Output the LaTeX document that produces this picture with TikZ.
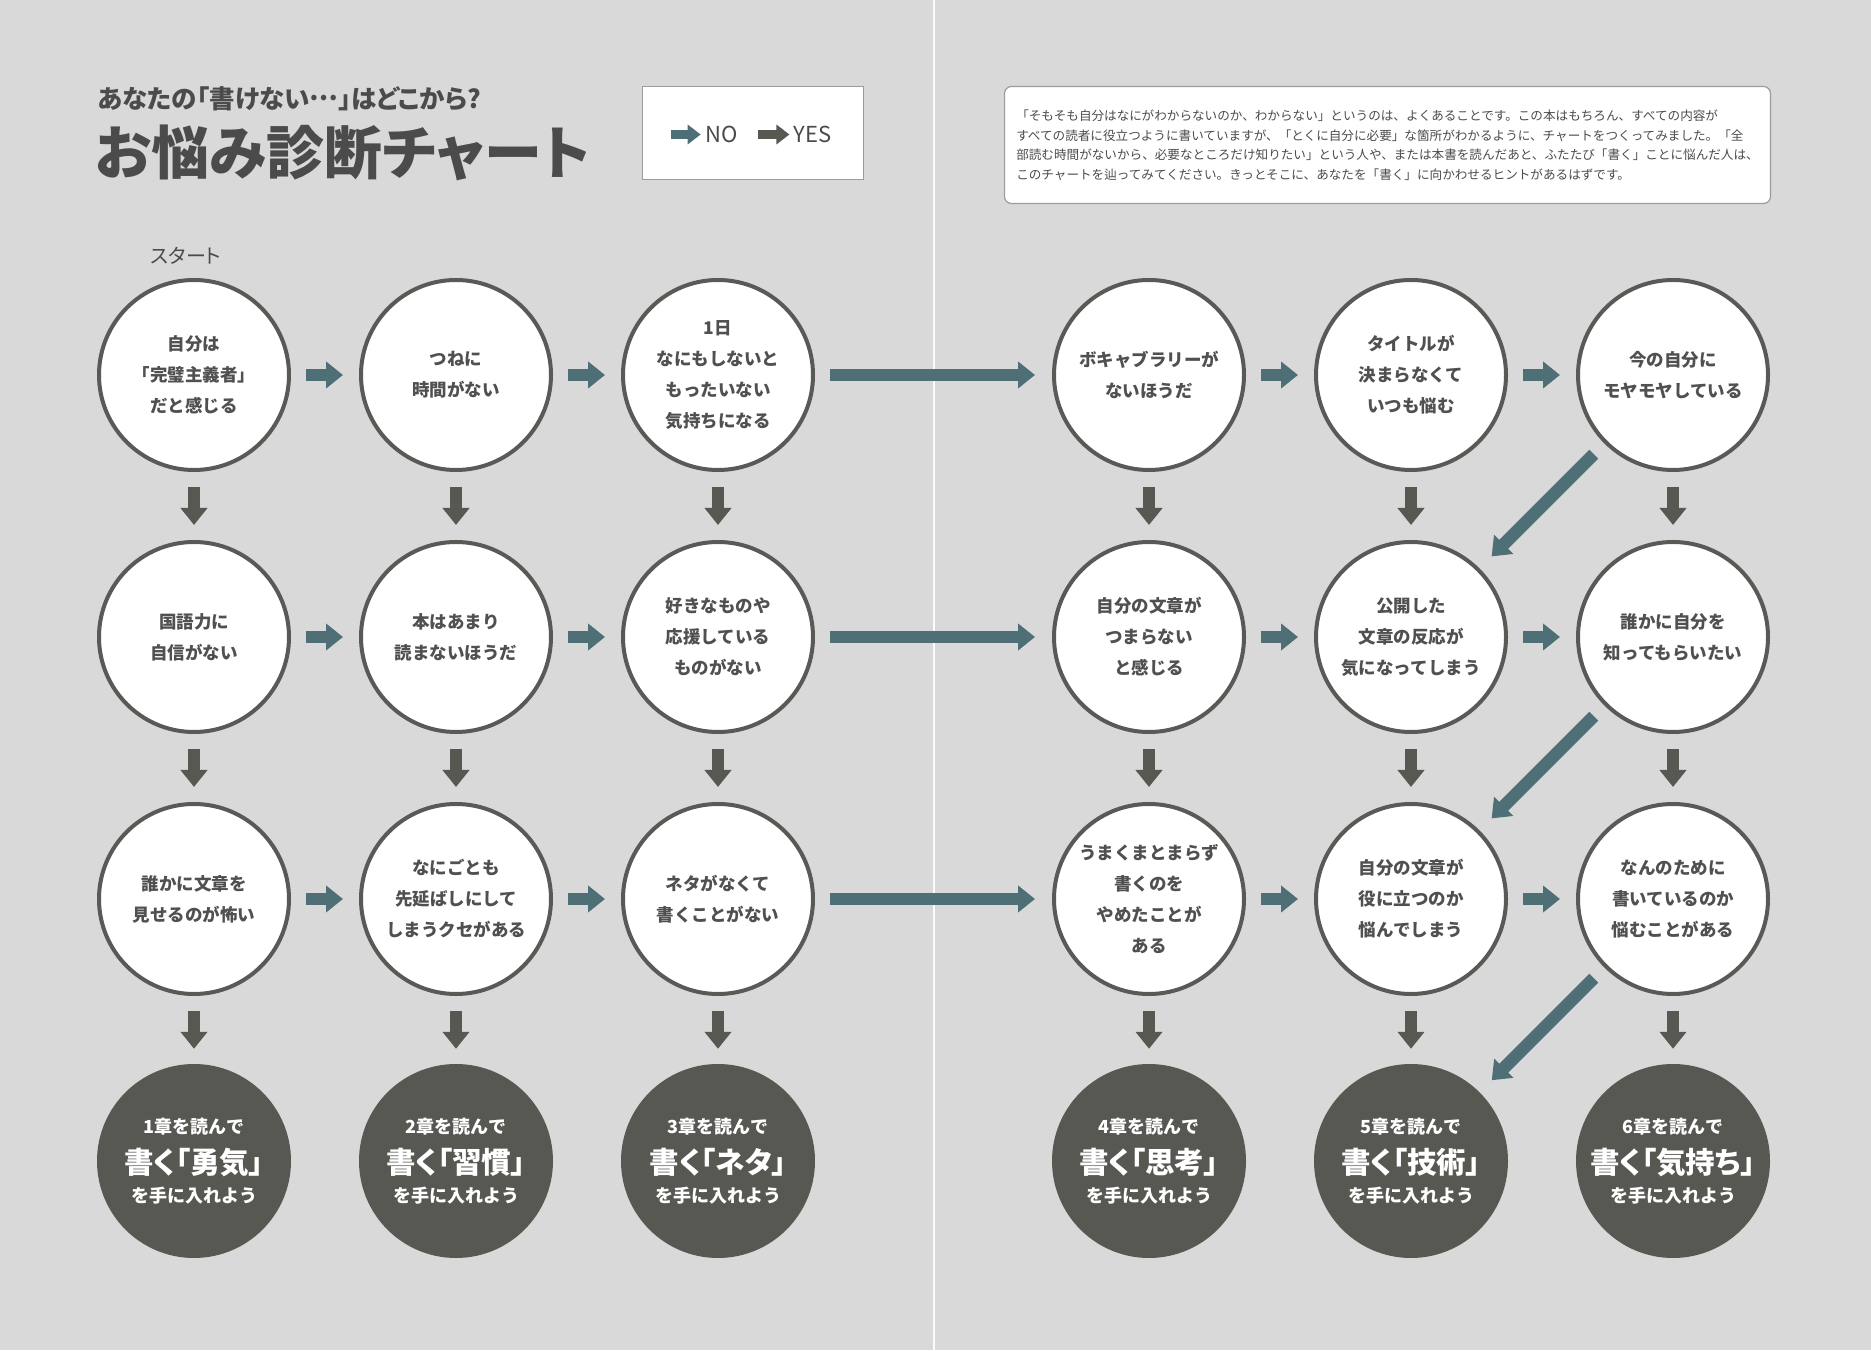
\documentclass[tikz,border=0pt]{standalone}
\usepackage{fontspec}
\setmainfont{Noto Sans CJK JP}
\newfontfamily\paltfont{Noto Sans CJK JP}[RawFeature=+palt]
\usepackage{xcolor}
\definecolor{bg}{HTML}{D9D9D9}
\definecolor{acc}{HTML}{4F6F77}
\definecolor{dk}{HTML}{585853}
\definecolor{ring}{HTML}{595956}
\definecolor{ink}{HTML}{4B4B4B}
\definecolor{qink}{HTML}{505050}
\definecolor{frame}{HTML}{9C9C9C}
\usepackage{tikz}
\usetikzlibrary{arrows.meta}
\tikzset{
  qc/.style={circle,draw=ring,line width=4pt,fill=white,minimum size=190pt,inner sep=0pt,align=center,text=qink,font=\bfseries\fontsize{17.5}{31}\selectfont},
  gc/.style={circle,fill=dk,minimum size=194pt,inner sep=0pt,align=center,text=white,font=\bfseries\fontsize{18}{35}\selectfont},
  arrn/.style={draw=acc,line width=12.5pt,-{Triangle[length=17pt,width=26pt]}},
  arry/.style={arrn,draw=dk},
  legn/.style={draw=acc,line width=9pt,-{Triangle[length=13pt,width=19pt]}},
  legy/.style={legn,draw=dk},
  lab/.style={inner sep=0pt,text=ink},
  card/.style={draw=frame,fill=white,line width=1.2pt,inner sep=0pt},
}
\newcommand\goaltxt[2]{#1章を読んで\\[5pt]{\paltfont\fontsize{29.5}{35}\selectfont 書く「#2」}\\[-6pt]を手に入れよう}

\begin{document}
\begin{tikzpicture}[x=1pt,y=1pt]
\fill[bg] (0,0) rectangle (1871,1350);
\useasboundingbox (0,0) rectangle (1871,1350);
\draw[white!92!bg,line width=2pt] (934,0) -- (934,1350);

% heading and legend
\node[lab,anchor=west,font=\paltfont\bfseries\fontsize{25.5}{30}\selectfont] (sub) at (97,1251) {あなたの「書けない\raisebox{0.33em}{…}」はどこから?};
\node[lab,anchor=west,font=\paltfont\bfseries\fontsize{58}{64}\selectfont] (title) at (95,1197) {お悩み診断チャート};
\node[card,minimum width=221pt,minimum height=93pt] (leg) at (753,1217) {};
\node[lab,font=\fontsize{22}{26}\selectfont] (no) at (722,1215.5) {NO};
\node[lab,font=\fontsize{22}{26}\selectfont] (yes) at (812.5,1215.5) {YES};
\draw[legn] ([xshift=-35pt]no.west) -- ([xshift=-5pt]no.west);
\draw[legy] ([xshift=-35pt]yes.west) -- ([xshift=-4pt]yes.west);
\node[card,rounded corners=7pt,minimum width=766pt,minimum height=117pt,align=left,text=ink,font=\fontsize{12.6}{19.5}\selectfont] (note) at (1387.5,1205) {「そもそも自分はなにがわからないのか、わからない」というのは、よくあることです。この本はもちろん、すべての内容が\\すべての読者に役立つように書いていますが、「とくに自分に必要」な箇所がわかるように、チャートをつくってみました。「全\\部読む時間がないから、必要なところだけ知りたい」という人や、または本書を読んだあと、ふたたび「書く」ことに悩んだ人は、\\このチャートを辿ってみてください。きっとそこに、あなたを「書く」に向かわせるヒントがあるはずです。};
\node[lab,font=\paltfont\fontsize{20}{24}\selectfont] (start) at (186,1094) {スタート};

% questions
\node[qc] (q11) at (194,975) {自分は\\「完璧主義者」\\だと感じる};
\node[qc] (q12) at (456,975) {つねに\\時間がない};
\node[qc] (q13) at (718,975) {1日\\なにもしないと\\もったいない\\気持ちになる};
\node[qc] (q14) at (1149,975) {ボキャブラリーが\\ないほうだ};
\node[qc] (q15) at (1411,975) {タイトルが\\決まらなくて\\いつも悩む};
\node[qc] (q16) at (1673,975) {今の自分に\\モヤモヤしている};
\node[qc] (q21) at (194,713) {国語力に\\自信がない};
\node[qc] (q22) at (456,713) {本はあまり\\読まないほうだ};
\node[qc] (q23) at (718,713) {好きなものや\\応援している\\ものがない};
\node[qc] (q24) at (1149,713) {自分の文章が\\つまらない\\と感じる};
\node[qc] (q25) at (1411,713) {公開した\\文章の反応が\\気になってしまう};
\node[qc] (q26) at (1673,713) {誰かに自分を\\知ってもらいたい};
\node[qc] (q31) at (194,451) {誰かに文章を\\見せるのが怖い};
\node[qc] (q32) at (456,451) {なにごとも\\先延ばしにして\\しまうクセがある};
\node[qc] (q33) at (718,451) {ネタがなくて\\書くことがない};
\node[qc] (q34) at (1149,451) {うまくまとまらず\\書くのを\\やめたことが\\ある};
\node[qc] (q35) at (1411,451) {自分の文章が\\役に立つのか\\悩んでしまう};
\node[qc] (q36) at (1673,451) {なんのために\\書いているのか\\悩むことがある};

% goals
\node[gc] (g1) at (194,189) {\goaltxt{1}{勇気}};
\node[gc] (g2) at (456,189) {\goaltxt{2}{習慣}};
\node[gc] (g3) at (718,189) {\goaltxt{3}{ネタ}};
\node[gc] (g4) at (1149,189) {\goaltxt{4}{思考}};
\node[gc] (g5) at (1411,189) {\goaltxt{5}{技術}};
\node[gc] (g6) at (1673,189) {\goaltxt{6}{気持ち}};

% NO arrows
\draw[arrn] ([xshift=15pt]q11.east) -- ([xshift=-16pt]q12.west); \draw[arrn] ([xshift=15pt]q12.east) -- ([xshift=-16pt]q13.west);
\draw[arrn] ([xshift=15pt]q13.east) -- ([xshift=-17pt]q14.west);
\draw[arrn] ([xshift=15pt]q14.east) -- ([xshift=-16pt]q15.west); \draw[arrn] ([xshift=15pt]q15.east) -- ([xshift=-16pt]q16.west);
\draw[arrn] ([xshift=15pt]q21.east) -- ([xshift=-16pt]q22.west); \draw[arrn] ([xshift=15pt]q22.east) -- ([xshift=-16pt]q23.west);
\draw[arrn] ([xshift=15pt]q23.east) -- ([xshift=-17pt]q24.west);
\draw[arrn] ([xshift=15pt]q24.east) -- ([xshift=-16pt]q25.west); \draw[arrn] ([xshift=15pt]q25.east) -- ([xshift=-16pt]q26.west);
\draw[arrn] ([xshift=15pt]q31.east) -- ([xshift=-16pt]q32.west); \draw[arrn] ([xshift=15pt]q32.east) -- ([xshift=-16pt]q33.west);
\draw[arrn] ([xshift=15pt]q33.east) -- ([xshift=-17pt]q34.west);
\draw[arrn] ([xshift=15pt]q34.east) -- ([xshift=-16pt]q35.west); \draw[arrn] ([xshift=15pt]q35.east) -- ([xshift=-16pt]q36.west);
\draw[arrn] ([shift={(-135:15pt)}]q16.south west) -- ([shift={(45:17pt)}]q25.north east);
\draw[arrn] ([shift={(-135:15pt)}]q26.south west) -- ([shift={(45:17pt)}]q35.north east);
\draw[arrn] ([shift={(-135:15pt)}]q36.south west) -- ([shift={(45:17pt)}]g5.north east);

% YES arrows
\draw[arry] ([yshift=-15pt]q11.south) -- ([yshift=15pt]q21.north); \draw[arry] ([yshift=-15pt]q21.south) -- ([yshift=15pt]q31.north); \draw[arry] ([yshift=-15pt]q31.south) -- ([yshift=15pt]g1.north);
\draw[arry] ([yshift=-15pt]q12.south) -- ([yshift=15pt]q22.north); \draw[arry] ([yshift=-15pt]q22.south) -- ([yshift=15pt]q32.north); \draw[arry] ([yshift=-15pt]q32.south) -- ([yshift=15pt]g2.north);
\draw[arry] ([yshift=-15pt]q13.south) -- ([yshift=15pt]q23.north); \draw[arry] ([yshift=-15pt]q23.south) -- ([yshift=15pt]q33.north); \draw[arry] ([yshift=-15pt]q33.south) -- ([yshift=15pt]g3.north);
\draw[arry] ([yshift=-15pt]q14.south) -- ([yshift=15pt]q24.north); \draw[arry] ([yshift=-15pt]q24.south) -- ([yshift=15pt]q34.north); \draw[arry] ([yshift=-15pt]q34.south) -- ([yshift=15pt]g4.north);
\draw[arry] ([yshift=-15pt]q15.south) -- ([yshift=15pt]q25.north); \draw[arry] ([yshift=-15pt]q25.south) -- ([yshift=15pt]q35.north); \draw[arry] ([yshift=-15pt]q35.south) -- ([yshift=15pt]g5.north);
\draw[arry] ([yshift=-15pt]q16.south) -- ([yshift=15pt]q26.north); \draw[arry] ([yshift=-15pt]q26.south) -- ([yshift=15pt]q36.north); \draw[arry] ([yshift=-15pt]q36.south) -- ([yshift=15pt]g6.north);
\end{tikzpicture}
\end{document}
